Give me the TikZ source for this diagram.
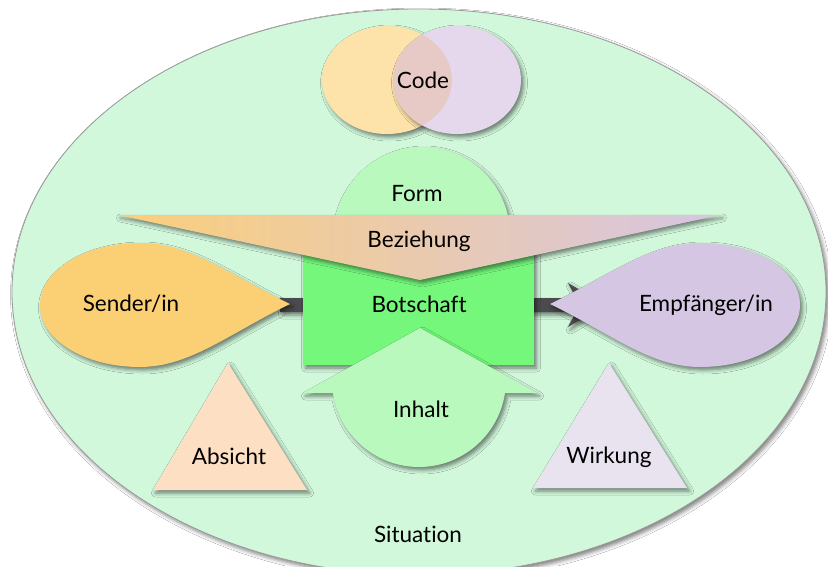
\documentclass[tikz,border=0pt]{standalone}
\usepackage{fontspec}
\setmainfont{Lato}[Ligatures={NoCommon,NoRare,NoDiscretionary}]
\usetikzlibrary{shadows.blur}
\definecolor{bgmint}{HTML}{D2F8DC}
\definecolor{edgegray}{HTML}{9A9A9A}
\definecolor{codeL}{HTML}{FDE3A9}
\definecolor{codeR}{HTML}{E6D8EC}
\definecolor{codeX}{HTML}{E7CAC6}
\definecolor{lightgreen}{HTML}{B9F9BD}
\definecolor{brightgreen}{HTML}{74F77B}
\definecolor{senderc}{HTML}{FBD074}
\definecolor{empfc}{HTML}{D5C6E3}
\definecolor{absichtc}{HTML}{FDDFC3}
\definecolor{wirkungc}{HTML}{E9E3F0}
\definecolor{bezL}{HTML}{FBCF7A}
\definecolor{bezM}{HTML}{E8C9AF}
\definecolor{bezR}{HTML}{D7C5E3}
\definecolor{arrowc}{HTML}{4B4B4F}
\begin{document}
\begin{tikzpicture}[x=1pt,y=-1pt,
  lbl/.style={font=\fontsize{22.5}{26}\selectfont, anchor=base, inner sep=0pt, text=black},
  shad/.style={blur shadow={shadow xshift=2.5pt,shadow yshift=-3pt,shadow blur radius=4pt,shadow opacity=50}}]
\useasboundingbox (0,0) rectangle (828,566);
\fill[white] (0,0) rectangle (828,566);
% situation ellipse
\path[fill=bgmint, draw=edgegray, line width=0.8pt, shad] (419,292) ellipse[x radius=407pt, y radius=283pt];
% code circles
\path[fill=codeL, shad] (387,80) ellipse[x radius=65pt, y radius=54pt];
\path[fill=codeR, shad] (457,80) ellipse[x radius=64pt, y radius=54pt];
\begin{scope}
  \clip (387,80) ellipse[x radius=65pt, y radius=54pt];
  \fill[codeX] (457,80) ellipse[x radius=64pt, y radius=54pt];
\end{scope}
% form dome
\path[fill=lightgreen, shad] (422,235) circle[radius=88pt];
% arrow
\path[fill=arrowc, shad] (280,298) -- (576,298) -- (568,283) -- (606,305) -- (568,327) -- (576,312) -- (280,312) -- cycle;
% botschaft
\path[fill=brightgreen, shad] (303,245) rectangle (534,365);
% sender
\path[fill=senderc, shad] (290,304) .. controls (230,275) and (190,243) .. (140,243)
  .. controls (85,243) and (40,270) .. (40,305)
  .. controls (40,340) and (85,367) .. (140,367)
  .. controls (190,367) and (230,333) .. (290,304) -- cycle;
% empfaenger
\path[fill=empfc, shad] (550,304) .. controls (610,275) and (650,243) .. (700,243)
  .. controls (755,243) and (800,270) .. (800,305)
  .. controls (800,340) and (755,367) .. (700,367)
  .. controls (650,367) and (610,333) .. (550,304) -- cycle;
% beziehung
\path[left color=bezL, middle color=bezM, right color=bezR, shad] (118,215) -- (720,215) -- (420,280) -- cycle;
% inhalt
\path[fill=lightgreen, shad] (420,328) -- (537,393) -- (505,393) arc[start angle=-8.6, end angle=-171.4, radius=87pt] -- (303,393) -- cycle;
% triangles
\path[fill=absichtc, shad] (228,363) -- (307,490) -- (153,490) -- cycle;
\path[fill=wirkungc, shad] (609,363) -- (687,488) -- (533,488) -- cycle;
% labels
\node[lbl] (code) at (423,88) {Code};
\node[lbl] (form) at (417,201) {Form};
\node[lbl] (bez) at (419,247) {Beziehung};
\node[lbl] (bot) at (419,312) {Botschaft};
\node[lbl] (inh) at (421,417) {Inhalt};
\node[lbl] (send) at (131,311) {Sender/in};
\node[lbl] (empf) at (706,311) {Empfänger/in};
\node[lbl] (abs) at (229,464) {Absicht};
\node[lbl] (wirk) at (609,463) {Wirkung};
\node[lbl] (sit) at (418,542) {Situation};
\end{tikzpicture}
\end{document}
